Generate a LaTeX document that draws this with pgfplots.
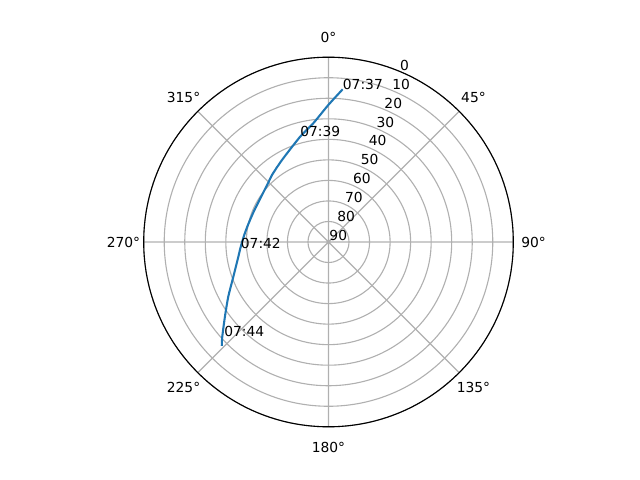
\documentclass[border=0pt]{standalone}
\usepackage{fontspec}
\setmainfont{DejaVu Sans}
\usepackage{pgfplots}
\usepackage{pgfplotstable}
\pgfplotsset{compat=1.18}
\usepgfplotslibrary{polar}
\definecolor{mplblue}{HTML}{1F77B4}
\definecolor{mplgrid}{HTML}{B0B0B0}

% satellite pass: azimuth (deg, clockwise from north), elevation (deg)
\pgfplotstableread{
az    el
5.3   15.3
359.9 23.3
352.7 31.7
344.9 36.9
330.4 44.1
319.9 47.3
314.7 48.8
303.7 50.5
292.6 50.7
281.9 49.9
274.1 48.7
266.1 47.0
260.7 45.5
250.0 40.7
241.4 34.4
234.2 27.8
228.3 20.7
225.8 17.5
}\passdata

\begin{document}
\begin{tikzpicture}
\useasboundingbox (0,0) rectangle (6.4in,4.8in);
\begin{polaraxis}[
    at={(3.285in,2.38in)}, anchor=center,
    scale only axis, width=3.696in, height=3.696in,
    ymin=0, ymax=90,
    xtick={0,45,...,315}, ytick={0,10,...,90},
    xticklabels={}, yticklabels={},
    grid=major,
    major grid style={draw=mplgrid, line width=0.8pt},
    x axis line style={black, line width=0.8pt},
    y axis line style={draw=none},
    major tick length=0pt,
    clip=false,
]
% plotted angle = 90 - azimuth, radius = 90 - elevation
\addplot[mplblue, line width=1.5pt, no markers, smooth, tension=0.4, line join=round]
    table[x expr={90-\thisrow{az}}, y expr={90-\thisrow{el}}] {\passdata};

% azimuth labels
\node at (axis cs:90,99.85)  {0°};
\node at (axis cs:45,99.85)  {45°};
\node at (axis cs:0,99.85)   {90°};
\node at (axis cs:-45,99.85) {135°};
\node at (axis cs:-90,99.85) {180°};
\node at (axis cs:-135,99.85) {225°};
\node at (axis cs:180,99.85) {270°};
\node at (axis cs:135,99.85) {315°};

% elevation labels
\node[anchor=south west, inner sep=0.5pt] at (axis cs:67.5,90) {0};
\node[anchor=south west, inner sep=0.5pt] at (axis cs:67.5,80) {10};
\node[anchor=south west, inner sep=0.5pt] at (axis cs:67.5,70) {20};
\node[anchor=south west, inner sep=0.5pt] at (axis cs:67.5,60) {30};
\node[anchor=south west, inner sep=0.5pt] at (axis cs:67.5,50) {40};
\node[anchor=south west, inner sep=0.5pt] at (axis cs:67.5,40) {50};
\node[anchor=south west, inner sep=0.5pt] at (axis cs:67.5,30) {60};
\node[anchor=south west, inner sep=0.5pt] at (axis cs:67.5,20) {70};
\node[anchor=south west, inner sep=0.5pt] at (axis cs:67.5,10) {80};
\node[anchor=south west, inner sep=0.5pt] at (axis cs:67.5,0)  {90};

% time labels
\node[anchor=base west, inner sep=0pt] at (axis cs:84.7,74.7) {07:37};
\node[anchor=base west, inner sep=0pt] at (axis cs:105.1,53.1) {07:39};
\node[anchor=base west, inner sep=0pt] at (axis cs:-175.9,42.9) {07:42};
\node[anchor=base west, inner sep=0pt] at (axis cs:-138.0,68.5) {07:44};
\end{polaraxis}
\end{tikzpicture}
\end{document}
